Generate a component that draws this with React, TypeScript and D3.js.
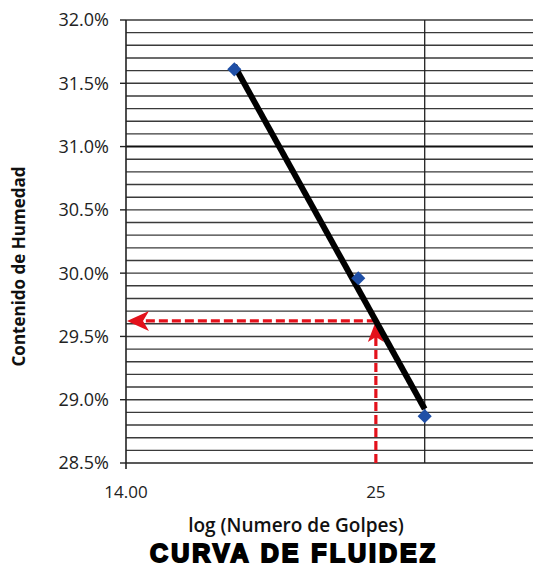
import * as d3 from 'd3';

// Flow curve (liquid limit) readings
const blows = [18, 24, 28];
const moisture = [31.61, 29.96, 28.87];
const yTicks = [28.5, 29.0, 29.5, 30.0, 30.5, 31.0, 31.5, 32.0];
const xTicks = [14, 25];
const xTickLabels = ['14.00', '25'];
const xGridLines = [28];
const targetBlows = 25;

const W = 533;
const H = 566;
const margin = { top: 20, right: 0, bottom: 103, left: 126 };

const App = () => {
  const x = d3.scaleLog().domain([14, 36]).range([margin.left, W - margin.right]);
  const y = d3.scaleLinear().domain([28.5, 32]).range([H - margin.bottom, margin.top]);

  // log trendline fit (least squares on ln x)
  const lx = blows.map((b) => Math.log(b));
  const mx = d3.mean(lx) || 0;
  const my = d3.mean(moisture) || 0;
  const sxy = d3.sum(lx, (v, i) => (v - mx) * (moisture[i] - my));
  const sxx = d3.sum(lx, (v) => (v - mx) * (v - mx));
  const slope = sxy / sxx;
  const fit = (b: number) => my + slope * (Math.log(b) - mx);

  const trend = d3.line<number>().x((b) => x(b)).y((b) => y(fit(b)));
  const targetY = y(fit(targetBlows));
  const targetX = x(targetBlows);

  const minor = d3.range(28.6, 32.0, 0.1).map((v) => +v.toFixed(1));
  const x0 = margin.left;
  const x1 = W - margin.right;
  const yb = y(28.5);
  const red = '#e3111b';

  const diamond = d3.symbol().type(d3.symbolSquare).size(100);

  return (
    <svg width={W} height={H} style={{ position: 'absolute', left: 0, top: 0, background: '#fff' }}>
      {/* horizontal grid */}
      {minor.map((v) => (
        <line key={v} x1={x0} x2={x1} y1={y(v)} y2={y(v)} stroke={v === 31 ? '#111' : '#3a3a3a'} strokeWidth={v === 31 ? 2 : 1.4} />
      ))}
      <line x1={x0} x2={x1} y1={y(32)} y2={y(32)} stroke="#3a3a3a" strokeWidth={1.4} />
      <line x1={x0} x2={x1} y1={yb} y2={yb} stroke="#222" strokeWidth={1.6} />
      {/* vertical grid */}
      {xGridLines.map((g) => (
        <line key={g} x1={x(g)} x2={x(g)} y1={y(32)} y2={yb} stroke="#222" strokeWidth={1.3} />
      ))}
      {/* y axis */}
      <line x1={x0} x2={x0} y1={y(32)} y2={yb + 6} stroke="#222" strokeWidth={1.6} />
      {yTicks.map((t) => (
        <g key={t}>
          <line x1={x0 - 6} x2={x0} y1={y(t)} y2={y(t)} stroke="#222" strokeWidth={1.4} />
          <text x={x0 - 17} y={y(t)} dy="0.36em" textAnchor="end" fontFamily="Open Sans, sans-serif" fontSize={18} fill="#222">
            {t.toFixed(1)}%
          </text>
        </g>
      ))}
      {/* x tick labels */}
      {xTicks.map((t, i) => (
        <text key={t} x={x(t)} y={498} textAnchor="middle" fontFamily="Open Sans, sans-serif" fontSize={17} fill="#222">
          {xTickLabels[i]}
        </text>
      ))}
      {/* red dashed lookup lines */}
      <line x1={targetX} x2={targetX} y1={yb} y2={targetY + 14} stroke={red} strokeWidth={3.2} strokeDasharray="9 4" />
      <path d={`M${targetX},${targetY} L${targetX + 8},${targetY + 21} L${targetX},${targetY + 16} L${targetX - 8},${targetY + 21} Z`} fill={red} />
      <line x1={targetX} x2={x0 + 16} y1={targetY} y2={targetY} stroke={red} strokeWidth={3.2} strokeDasharray="9 4" />
      <path d={`M${x0 + 1},${targetY} L${x0 + 23},${targetY - 10} L${x0 + 17},${targetY} L${x0 + 23},${targetY + 10} Z`} fill={red} />
      {/* trendline */}
      <path d={trend([blows[0], blows[blows.length - 1]]) || ''} fill="none" stroke="#000" strokeWidth={6} strokeLinecap="butt" />
      {/* points */}
      {blows.map((b, i) => (
        <path key={b} d={diamond() || ''} transform={`translate(${x(b)},${y(moisture[i])}) rotate(45)`} fill="#1f4fa6" />
      ))}
      {/* axis titles */}
      <text transform={`translate(25,${(y(32) + yb) / 2 + 25}) rotate(-90)`} textAnchor="middle" fontFamily="Open Sans, sans-serif" fontWeight="bold" fontSize={17} fill="#111">
        Contenido de Humedad
      </text>
      <text x={296} y={532} textAnchor="middle" fontFamily="Open Sans, sans-serif" fontWeight={600} fontSize={19} fill="#111">
        log (Numero de Golpes)
      </text>
      <text x={294} y={562} textAnchor="middle" fontFamily="Liberation Sans, sans-serif" fontWeight="bold" fontSize={25} letterSpacing={3} fill="#000" stroke="#000" strokeWidth={2}>
        CURVA DE FLUIDEZ
      </text>
    </svg>
  );
};

export default App;
